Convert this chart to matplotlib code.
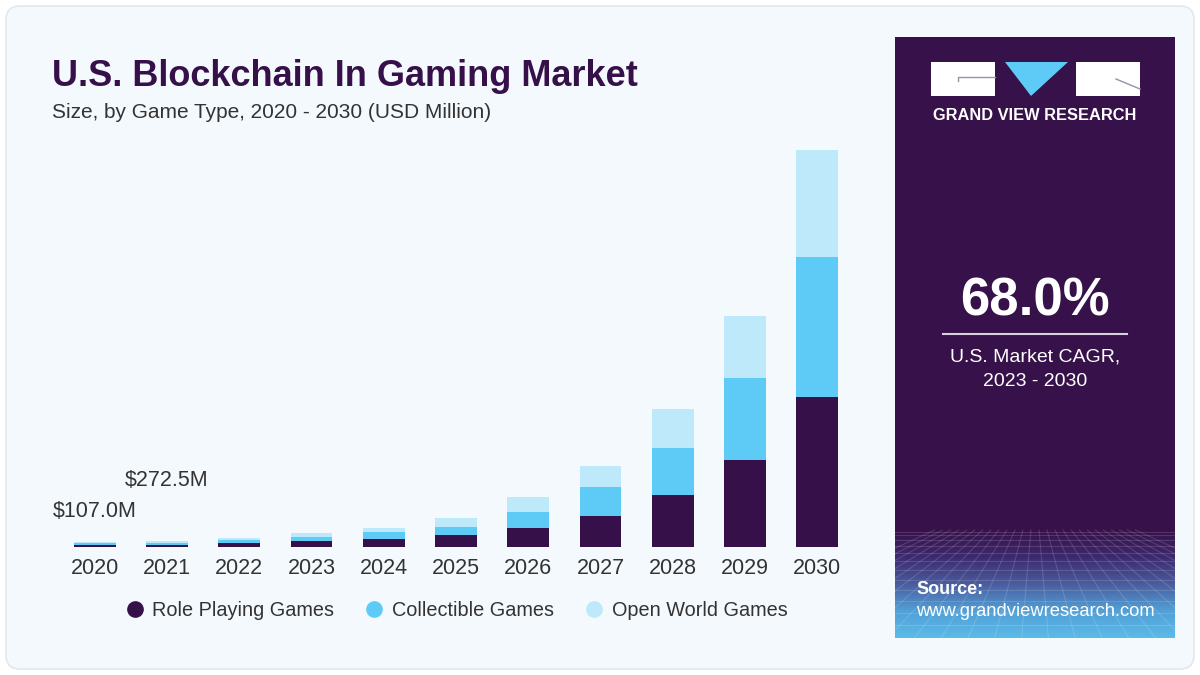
import matplotlib.pyplot as plt
import numpy as np
from matplotlib.patches import FancyBboxPatch, Rectangle, Polygon
from matplotlib.lines import Line2D
from matplotlib.colors import LinearSegmentedColormap

# data (USD million)
years = ["2020", "2021", "2022", "2023", "2024", "2025", "2026", "2027", "2028", "2029", "2030"]
role_playing = [40, 45, 92, 129, 184, 269, 423, 706, 1189, 1994, 3436]
collectible = [37, 40, 53, 99, 152, 191, 368, 660, 1088, 1879, 3234]
open_world = [30, 35, 46, 76, 101, 207, 345, 490, 883, 1433, 2454]
callouts = {0: "$107.0M", 1: "$272.5M"}

DARK = "#361049"
MID = "#5ecbf7"
LIGHT = "#bde9fa"
BG = "#f4f9fd"
FONT = ["Liberation Sans", "DejaVu Sans"]
plt.rcParams["font.family"] = FONT

fig = plt.figure(figsize=(12, 6.75), dpi=100)
fig.patch.set_facecolor("white")

# background layer in pixel coords
bg = fig.add_axes([0, 0, 1, 1], zorder=0)
bg.axis("off")
bg.add_patch(FancyBboxPatch((6, 6), 1188, 663, boxstyle="round,pad=0,rounding_size=14",
                            fc=BG, ec="#e3e8ee", lw=1.2))

# right panel
bg.add_patch(Rectangle((895, 37), 280, 601, fc="#37114a", ec="none"))
grad = LinearSegmentedColormap.from_list("g", ["#37114a", "#3d2a6e", "#4a5c9e", "#52a0d6", "#5bbbe8"])
bg.imshow(np.linspace(0, 1, 200).reshape(-1, 1), cmap=grad, aspect="auto",
          extent=(895, 1175, 638, 530), zorder=1)
# faint perspective grid
for k in range(1, 14):
    yy = 530 + 108 * (k / 13) ** 1.6
    bg.plot([895, 1175], [yy, yy], color="white", alpha=0.14, lw=0.8, zorder=2)
for xb in np.linspace(700, 1370, 26):
    bg.plot([1035 + (xb - 1035) * 0.3, xb], [530, 638], color="white", alpha=0.14, lw=0.8, zorder=2)
bg.set_xlim(0, 1200)
bg.set_ylim(675, 0)

# logo
bg.add_patch(Rectangle((931, 62), 64, 34, fc="white", ec="none", zorder=3))
bg.plot([958, 958, 995], [81, 77, 77], color="#9a90a8", lw=1, zorder=4)
bg.add_patch(Polygon([(1005, 62), (1068, 62), (1031, 96)], fc="#5ecbf7", ec="none", zorder=3))
bg.add_patch(Rectangle((1076, 62), 64, 34, fc="white", ec="none", zorder=3))
bg.plot([1116, 1140], [79, 89], color="#9a90a8", lw=1, zorder=4)
bg.text(1035, 115, "GRAND VIEW RESEARCH", color="white", fontsize=11.8, fontweight="bold",
        ha="center", va="center", zorder=4)

bg.text(1035, 302, "68.0%", color="white", fontsize=38, fontweight="bold",
        ha="center", va="center", zorder=4)
bg.plot([943, 1127], [334, 334], color="#d8d0de", lw=1.5, zorder=4)
bg.text(1035, 357, "U.S. Market CAGR,", color="white", fontsize=14,
        ha="center", va="center", zorder=4)
bg.text(1035, 382, "2023 - 2030", color="white", fontsize=14,
        ha="center", va="center", zorder=4)
bg.text(916, 590, "Source:", color="white", fontsize=13, fontweight="bold",
        ha="left", va="center", zorder=4)
bg.text(916, 612, "www.grandviewresearch.com", color="white", fontsize=13.2,
        ha="left", va="center", zorder=4)

# titles
bg.text(52, 77, "U.S. Blockchain In Gaming Market", color=DARK, fontsize=26,
        fontweight="bold", ha="left", va="center")
bg.text(52, 113, "Size, by Game Type, 2020 - 2030 (USD Million)", color="#333333",
        fontsize=15, ha="left", va="center")

# chart
ax = fig.add_axes([37 / 1200, 128.3 / 675, 838 / 1200, 434.8 / 675], zorder=2)
ax.patch.set_alpha(0)
x = np.arange(len(years))
w = 0.58
rp = np.array(role_playing)
cg = np.array(collectible)
ow = np.array(open_world)
ax.bar(x, rp, w, color=DARK, label="Role Playing Games")
ax.bar(x, cg, w, bottom=rp, color=MID, label="Collectible Games")
ax.bar(x, ow, w, bottom=rp + cg, color=LIGHT, label="Open World Games")
ax.set_xlim(-0.8, 10.8)
ax.set_ylim(0, 10000)
ax.set_xticks(x)
ax.set_xticklabels(years, fontsize=15.5, color="#333333")
ax.tick_params(axis="x", length=0, pad=8)
ax.set_yticks([])
for s in ax.spines.values():
    s.set_visible(False)

tot = rp + cg + ow
for i, lab in callouts.items():
    off = 31 if i == 0 else 61
    ax.annotate(lab, (x[i], tot[i]), xytext=(0, off), textcoords="offset pixels",
                ha="center", va="center", fontsize=15.5, color="#333333")

handles = [Line2D([], [], marker="o", ls="none", ms=11, color=c) for c in (DARK, MID, LIGHT)]
fig.legend(handles, ["Role Playing Games", "Collectible Games", "Open World Games"],
           loc="center", bbox_to_anchor=(453 / 1200, 1 - 610 / 675), ncol=3, frameon=False,
           prop={"size": 14.3}, handletextpad=0.1, columnspacing=1.2, handlelength=1.6,
           labelcolor="#333333")

fig.savefig("out.png", dpi=100, facecolor=fig.get_facecolor())
